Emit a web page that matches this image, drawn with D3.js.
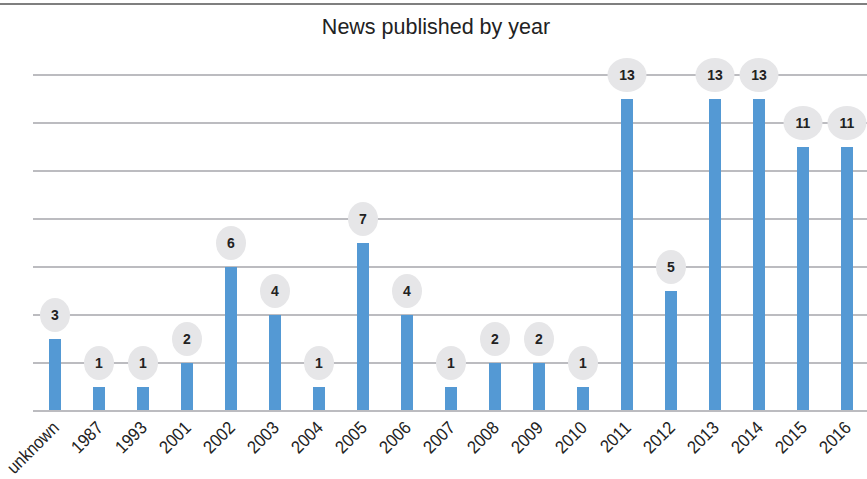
<!DOCTYPE html>
<html>
<head>
<meta charset="utf-8">
<script src="https://cdn.jsdelivr.net/npm/d3@7"></script>
<style>
  body { margin: 0; background: #fff; }
  svg { display: block; font-family: "Liberation Sans", Arial, sans-serif; }
</style>
</head>
<body>
<script>
// Data
const years = ['unknown', '1987', '1993', '2001', '2002', '2003', '2004', '2005', '2006', '2007',
  '2008', '2009', '2010', '2011', '2012', '2013', '2014', '2015', '2016'];
const counts = [3, 1, 1, 2, 6, 4, 1, 7, 4, 1, 2, 2, 1, 13, 5, 13, 13, 11, 11];
const yTicks = [0, 2, 4, 6, 8, 10, 12, 14];

const width = 867, height = 479;
const svg = d3.select('body').append('svg')
  .attr('width', width)
  .attr('height', height);

// top border line
svg.append('line')
  .attr('x1', 0).attr('x2', width)
  .attr('y1', 4).attr('y2', 4)
  .style('stroke', '#555')
  .style('stroke-width', 1.5);

// title
svg.append('text')
  .attr('x', 436)
  .attr('y', 34)
  .attr('text-anchor', 'middle')
  .style('font-size', '21.5px')
  .style('fill', '#222')
  .text('News published by year');

const xScale = d3.scaleBand().domain(years).range([33, 869]);
const yScale = d3.scaleLinear().domain([0, 14]).range([411, 75]);

// gridlines
svg.append('g').selectAll('line')
  .data(yTicks)
  .enter().append('line')
  .attr('x1', 33).attr('x2', width)
  .attr('y1', d => yScale(d)).attr('y2', d => yScale(d))
  .style('stroke', '#bcbcc0')
  .style('stroke-width', 2);

const data = years.map((y, i) => ({ year: y, count: counts[i] }));

// bars
svg.append('g').selectAll('rect')
  .data(data)
  .enter().append('rect')
  .attr('x', d => xScale(d.year) + xScale.bandwidth() / 2 - 6)
  .attr('width', 12)
  .attr('y', d => yScale(d.count))
  .attr('height', d => yScale(0) - yScale(d.count) - 1)
  .style('fill', '#5499d4');

// value bubbles
const labels = svg.append('g').selectAll('g')
  .data(data)
  .enter().append('g')
  .attr('transform', d => 'translate(' + (xScale(d.year) + xScale.bandwidth() / 2) + ',' + (yScale(d.count) - 24) + ')');

labels.append('ellipse')
  .attr('rx', d => String(d.count).length > 1 ? 19.5 : 15)
  .attr('ry', 17)
  .style('fill', '#e6e6e8');

labels.append('text')
  .attr('text-anchor', 'middle')
  .attr('dy', '0.36em')
  .style('font-size', '14px')
  .style('font-weight', 'bold')
  .style('fill', '#222')
  .text(d => d.count);

// x axis labels, rotated (slightly condensed to match the original face)
const xAxis = d3.axisBottom(xScale).tickSize(0).tickPadding(0);
const gx = svg.append('g')
  .attr('transform', 'translate(0,411)')
  .call(xAxis);
gx.select('.domain').remove();
gx.selectAll('text')
  .attr('transform', 'translate(5,18) rotate(-45) scale(0.9,1)')
  .attr('text-anchor', 'end')
  .attr('dy', 0)
  .attr('y', 0)
  .style('font-size', '18px')
  .style('font-family', '"Liberation Sans", Arial, sans-serif')
  .style('fill', '#222');
</script>
</body>
</html>
